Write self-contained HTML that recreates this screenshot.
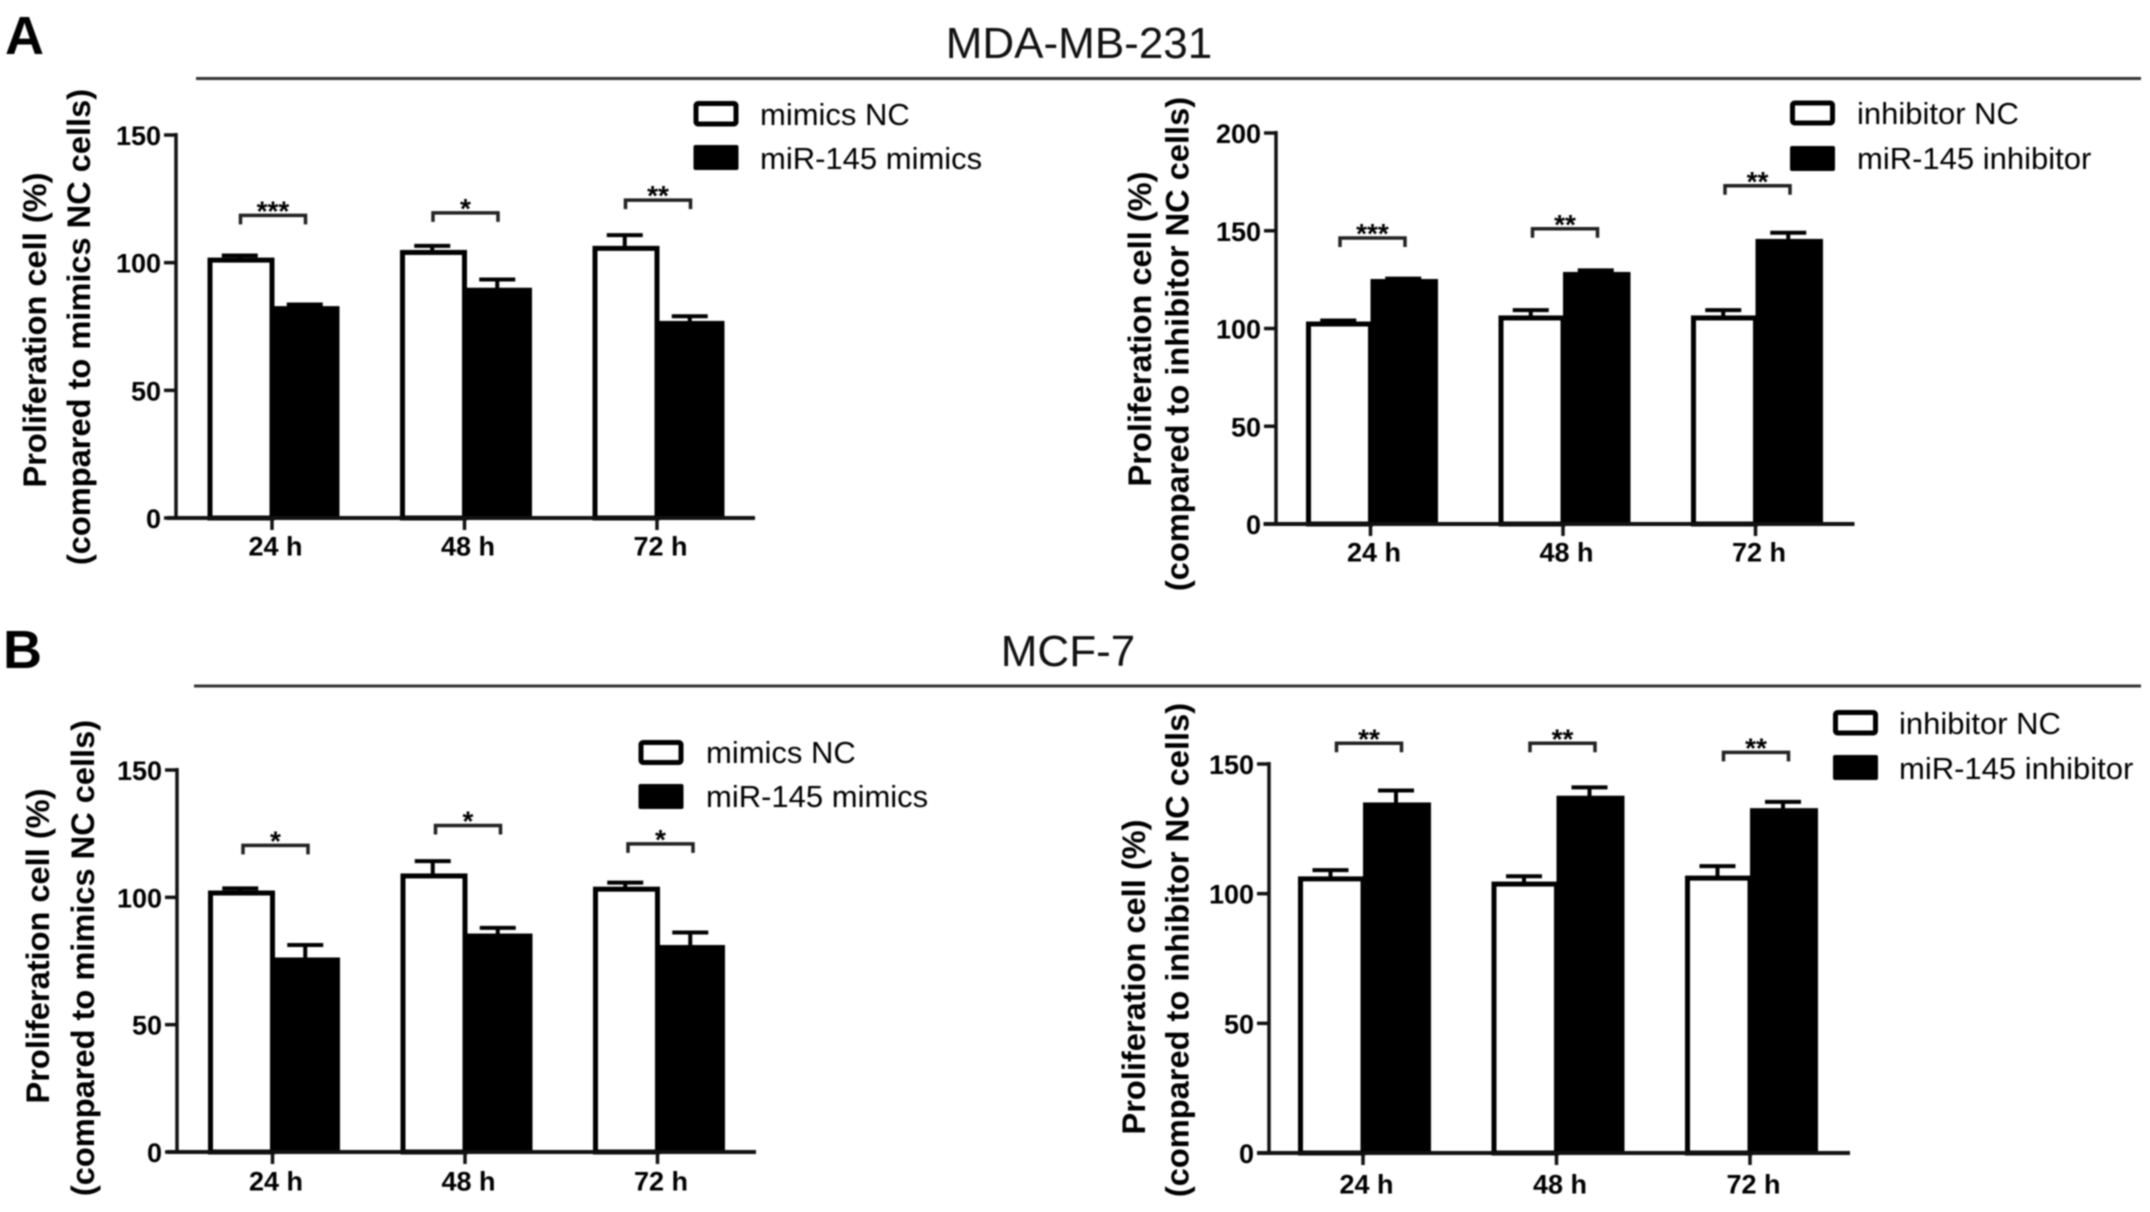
<!DOCTYPE html>
<html lang="en">
<head>
<meta charset="utf-8">
<title>miR-145 proliferation bar charts</title>
<style>
html,body{margin:0;padding:0;background:#fff;width:2150px;height:1212px;overflow:hidden}
svg{display:block;filter:blur(.9px)}
text{font-family:"Liberation Sans",Arial,sans-serif;fill:#000}
.title{font-size:44px;fill:#111}
.letter{font-size:54px;font-weight:bold}
.ytitle{font-size:32.6px;font-weight:bold;text-anchor:middle}
.legend{font-size:31px}
</style>
</head>
<body>
<svg id="figure" xmlns="http://www.w3.org/2000/svg" width="2150" height="1212" viewBox="0 0 2150 1212">
  <rect width="2150" height="1212" fill="#fff"/>

  <text class="letter" x="5" y="54">A</text>
  <text class="title" x="1079" y="58" text-anchor="middle">MDA-MB-231</text>
  <line x1="196" x2="2141" y1="78.5" y2="78.5" stroke="#333" stroke-width="3"/>

  <text class="letter" x="3" y="668">B</text>
  <text class="title" x="1068" y="666" text-anchor="middle">MCF-7</text>
  <line x1="194" x2="2141" y1="686" y2="686" stroke="#333" stroke-width="3"/>

  <g id="panelAL">
    <text class="ytitle" transform="translate(46,330) rotate(-90)">Proliferation cell (%)</text>
    <text class="ytitle" transform="translate(90,327) rotate(-90)">(compared to mimics NC cells)</text>
    <rect x="696" y="103.5" width="40" height="20.5" rx="2" fill="#fff" stroke="#000" stroke-width="5"/>
    <rect x="693.5" y="145" width="45" height="25" rx="2" fill="#000"/>
    <text class="legend" x="760" y="125">mimics NC</text>
    <text class="legend" x="760" y="169">miR-145 mimics</text>
  </g>

  <g id="panelAR">
    <text class="ytitle" transform="translate(1151,329) rotate(-90)">Proliferation cell (%)</text>
    <text class="ytitle" transform="translate(1188.5,344) rotate(-90)">(compared to inhibitor NC cells)</text>
    <rect x="1792.5" y="103" width="40" height="20" rx="2" fill="#fff" stroke="#000" stroke-width="5"/>
    <rect x="1790" y="146" width="45" height="25" rx="2" fill="#000"/>
    <text class="legend" x="1857" y="124">inhibitor NC</text>
    <text class="legend" x="1857" y="169">miR-145 inhibitor</text>
  </g>

  <g id="panelBL">
    <text class="ytitle" transform="translate(49,946) rotate(-90)">Proliferation cell (%)</text>
    <text class="ytitle" transform="translate(94,958) rotate(-90)">(compared to mimics NC cells)</text>
    <rect x="641" y="742.5" width="40" height="20" rx="2" fill="#fff" stroke="#000" stroke-width="5"/>
    <rect x="638.5" y="784" width="45" height="25" rx="2" fill="#000"/>
    <text class="legend" x="706" y="763">mimics NC</text>
    <text class="legend" x="706" y="807">miR-145 mimics</text>
  </g>

  <g id="panelBR">
    <text class="ytitle" transform="translate(1145,977) rotate(-90)">Proliferation cell (%)</text>
    <text class="ytitle" transform="translate(1188.5,950) rotate(-90)">(compared to inhibitor NC cells)</text>
    <rect x="1835.5" y="712.5" width="40" height="20.5" rx="2" fill="#fff" stroke="#000" stroke-width="5"/>
    <rect x="1833" y="755" width="45" height="25" rx="2" fill="#000"/>
    <text class="legend" x="1899" y="734">inhibitor NC</text>
    <text class="legend" x="1899" y="779">miR-145 inhibitor</text>
  </g>
</svg>

<script>
// ---- data ----
const categories = ['24 h', '48 h', '72 h'];

const ticksMimics = [0, 50, 100, 150];
const ticksInhibitorA = [0, 50, 100, 150, 200];
const ticksInhibitorB = [0, 50, 100, 150];

const alControl = [101, 104, 105.6];
const alControlErr = [1.8, 2.6, 5.2];
const alTreated = [82.2, 89.4, 76.4];
const alTreatedErr = [1.4, 4, 2.6];
const alBracket = [118.5, 119.5, 124.5];
const alStars = ['***', '*', '**'];

const arControl = [102.3, 105.4, 105.4];
const arControlErr = [1.8, 4, 4];
const arTreated = [124.3, 127.9, 144.8];
const arTreatedErr = [1.2, 1.8, 4.2];
const arBracket = [146.3, 151, 173];
const arStars = ['***', '**', '**'];

const blControl = [101.7, 108.4, 103.2];
const blControlErr = [1.8, 5.8, 2.6];
const blTreated = [75.6, 85, 80.5];
const blTreatedErr = [5.7, 3, 5.7];
const blBracket = [120.4, 128.2, 121];
const blStars = ['*', '*', '*'];

const brControl = [105.7, 103.7, 106];
const brControlErr = [3.4, 3, 4.6];
const brTreated = [134.4, 137, 132.2];
const brTreatedErr = [5.4, 4, 3.2];
const brBracket = [158, 158, 154.5];
const brStars = ['**', '**', '**'];

// ---- drawing ----
const NS = 'http://www.w3.org/2000/svg';

function mk(parent, tag, attrs) {
  const node = document.createElementNS(NS, tag);
  for (const k in attrs) node.setAttribute(k, attrs[k]);
  parent.appendChild(node);
  return node;
}

function drawPanel(p) {
  const g = document.getElementById(p.id);
  const yScale = v => p.y0 - (v / p.yMax) * (p.y0 - p.yTop);
  const xScale = i => p.x0 + i * p.step;

  p.control.forEach((v, i) => {
    const cx = xScale(i) - p.barW / 2;
    const stem = mk(g, 'line', {x1: cx, x2: cx, y1: yScale(v), y2: yScale(v + p.controlErr[i]), stroke: '#000', 'stroke-width': 4});
    
    
    const cap = mk(g, 'line', {x1: cx - 18, x2: cx + 18, y1: yScale(v + p.controlErr[i]), y2: yScale(v + p.controlErr[i]), stroke: '#000', 'stroke-width': 4});
    
    
    const bar = mk(g, 'rect', {x: xScale(i) - p.barW + 2.5, y: yScale(v), width: p.barW - 2.5, height: p.y0 - yScale(v), fill: '#fff', stroke: '#000', 'stroke-width': 5});
    
    
  });

  p.treated.forEach((v, i) => {
    const cx = xScale(i) + p.barW / 2 + 0.5;
    const stem = mk(g, 'line', {x1: cx, x2: cx, y1: yScale(v), y2: yScale(v + p.treatedErr[i]), stroke: '#000', 'stroke-width': 4});
    
    
    const cap = mk(g, 'line', {x1: cx - 18, x2: cx + 18, y1: yScale(v + p.treatedErr[i]), y2: yScale(v + p.treatedErr[i]), stroke: '#000', 'stroke-width': 4});
    
    
    const bar = mk(g, 'rect', {x: xScale(i), y: yScale(v) - 2, width: p.barW + 3, height: p.y0 - yScale(v) + 2, fill: '#000'});
    
    
  });

  const yAxis = mk(g, 'line', {x1: p.axisX, x2: p.axisX, y1: p.yTop - 2, y2: p.y0, stroke: '#111', 'stroke-width': 3.5});
  
  
  const xAxis = mk(g, 'line', {x1: p.xStart, x2: p.xEnd, y1: p.y0, y2: p.y0, stroke: '#111', 'stroke-width': 4});
  
  

  p.ticks.forEach(t => {
    const tick = mk(g, 'line', {x1: p.axisX - 12, x2: p.axisX, y1: yScale(t), y2: yScale(t), stroke: '#111', 'stroke-width': 3.5});
    
    
    const label = mk(g, 'text', {x: p.axisX - 15, y: yScale(t) + 10, 'text-anchor': 'end', 'font-size': 27, 'font-weight': 'bold'});
    label.textContent = t;
    
    
  });

  categories.forEach((c, i) => {
    const tick = mk(g, 'line', {x1: xScale(i), x2: xScale(i), y1: p.y0, y2: p.y0 + 12, stroke: '#111', 'stroke-width': 3.5});
    
    
    const label = mk(g, 'text', {x: xScale(i) + 3.5, y: p.labelY, 'text-anchor': 'middle', 'font-size': 27, 'font-weight': 'bold'});
    label.textContent = c;
    
    
  });

  p.bracket.forEach((v, i) => {
    const cx = xScale(i) + p.bracketDx;
    const by = yScale(v);
    const bracket = mk(g, 'path', {d: 'M' + (cx - 32.5) + ' ' + (by + 9) + 'V' + by + 'H' + (cx + 32.5) + 'V' + (by + 9), fill: 'none', stroke: '#222', 'stroke-width': 3.5});
    
    
    const star = mk(g, 'text', {x: cx, y: by + 5, 'text-anchor': 'middle', 'font-size': 28, 'font-weight': 'bold'});
    star.textContent = p.stars[i];
    
    
  });
}

drawPanel({id: 'panelAL', axisX: 176, y0: 518, yTop: 135, yMax: 150, xStart: 167, xEnd: 755, x0: 272, step: 192.5, barW: 64.5, labelY: 555.5, bracketDx: 1,
  ticks: ticksMimics, control: alControl, controlErr: alControlErr, treated: alTreated, treatedErr: alTreatedErr, bracket: alBracket, stars: alStars});
drawPanel({id: 'panelAR', axisX: 1276, y0: 524, yTop: 133, yMax: 200, xStart: 1263.5, xEnd: 1854.5, x0: 1370.5, step: 192.5, barW: 64.5, labelY: 561.5, bracketDx: 2,
  ticks: ticksInhibitorA, control: arControl, controlErr: arControlErr, treated: arTreated, treatedErr: arTreatedErr, bracket: arBracket, stars: arStars});
drawPanel({id: 'panelBL', axisX: 177, y0: 1152, yTop: 770, yMax: 150, xStart: 167, xEnd: 756, x0: 272.5, step: 192.5, barW: 64.5, labelY: 1190.5, bracketDx: 3,
  ticks: ticksMimics, control: blControl, controlErr: blControlErr, treated: blTreated, treatedErr: blTreatedErr, bracket: blBracket, stars: blStars});
drawPanel({id: 'panelBR', axisX: 1269, y0: 1153, yTop: 764, yMax: 150, xStart: 1257, xEnd: 1850, x0: 1363, step: 193.5, barW: 65, labelY: 1193.5, bracketDx: 6,
  ticks: ticksInhibitorB, control: brControl, controlErr: brControlErr, treated: brTreated, treatedErr: brTreatedErr, bracket: brBracket, stars: brStars});
</script>
</body>
</html>
